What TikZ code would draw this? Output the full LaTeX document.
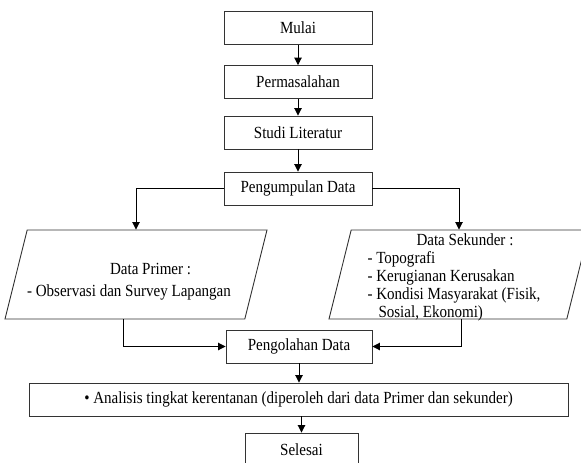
\documentclass[tikz,border=0pt]{standalone}
\usepackage{fontspec}
\setmainfont{Liberation Serif}[FakeStretch=0.885]
\usetikzlibrary{shapes.geometric,arrows.meta}

\begin{document}
\begin{tikzpicture}[x=1pt, y=-1pt,
    box/.style={draw=black!80, line width=0.9pt, minimum height=33pt, inner sep=2pt, font=\fontsize{17}{18}\selectfont},
    datain/.style={trapezium, trapezium left angle=76, trapezium right angle=104, trapezium stretches body,
        draw=black!80, line width=0.9pt, text height=89pt, text depth=0pt, inner sep=0pt},
    datatext/.style={align=left, inner sep=0pt, font=\fontsize{17}{18}\selectfont},
    flow/.style={-{Triangle[length=7.5pt,width=7.5pt]}, line width=0.9pt}]

    \useasboundingbox (0,0) rectangle (581,463);

    % Main steps at the top
    \foreach \nm/\y/\txt in {mulai/28/Mulai, masalah/82/Permasalahan, studi/132.5/Studi Literatur, kumpul/188.5/Pengumpulan Data} {
        \node[box, minimum width=148pt] (\nm) at (298, \y) {\txt};
    }

    % Data inputs
    \node[datain, minimum width=262pt] (primer) at (136, 274.5) {};
    \node[datatext] (primertext) at ([shift={(-7,7)}]primer.center)
        {\hspace*{83pt}Data Primer :\\[4pt]- Observasi dan Survey Lapangan};
    \node[datain, minimum width=260pt] (sekunder) at (459, 274.5) {};
    \node[datatext] (sekundertext) at ([shift={(-5,3)}]sekunder.center)
        {\hspace*{49pt}Data Sekunder :\\- Topografi\\- Kerugianan Kerusakan\\- Kondisi Masyarakat (Fisik,\\\hspace*{11pt}Sosial, Ekonomi)};

    % Processing and end
    \node[box, minimum width=146pt] (olah) at (299, 346.5) {Pengolahan Data};
    \node[box, minimum width=539pt] (analisis) at (298.5, 399.5)
        {\textbullet\ Analisis tingkat kerentanan (diperoleh dari data Primer dan sekunder)};
    \node[box, minimum width=113pt] (selesai) at (301.5, 449.5) {Selesai};

    % Arrows down the top column
    \foreach \a/\b in {mulai/masalah, masalah/studi, studi/kumpul} {
        \draw[flow] (\a) -- (\b);
    }

    % Branches to the data and back
    \draw[flow] (kumpul) -| (primer);
    \draw[flow] (kumpul) -| (sekunder);
    \draw[flow] ([xshift=-13pt]primer.south) |- (olah);
    \draw[flow] ([xshift=2pt]sekunder.south) |- (olah);

    \draw[flow] (olah) -- (olah |- analisis.north);
    \draw[flow] (selesai |- analisis.south) -- (selesai);

\end{tikzpicture}
\end{document}
